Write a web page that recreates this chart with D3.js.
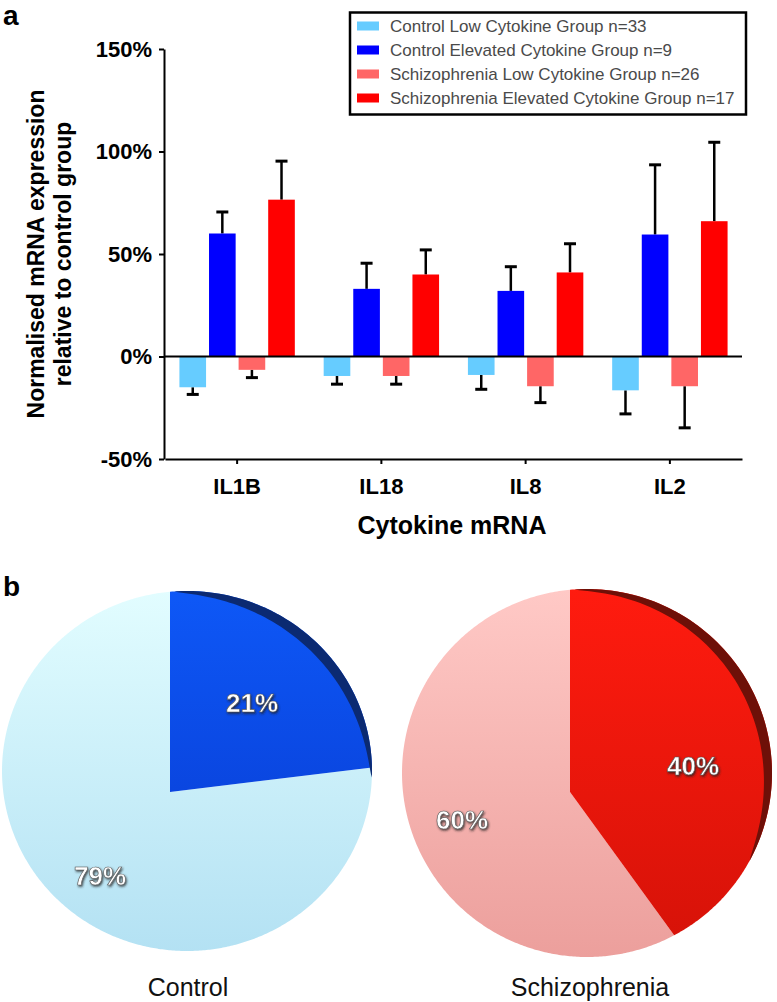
<!DOCTYPE html>
<html><head><meta charset="utf-8">
<script src="https://cdn.jsdelivr.net/npm/d3@7"></script>
<style>body{margin:0;background:#fff}svg{display:block}</style>
</head><body>
<script>
// ---------- DATA ----------
const categories = ["IL1B", "IL18", "IL8", "IL2"];
const seriesNames = [
  "Control Low Cytokine Group n=33",
  "Control Elevated Cytokine Group n=9",
  "Schizophrenia Low Cytokine Group n=26",
  "Schizophrenia Elevated Cytokine Group n=17"
];
const controlLow      = [-15, -9.5, -9, -16.5];
const controlLowErr   = [3.5, 4, 7, 11.5];
const controlElev     = [60, 33, 32, 59.5];
const controlElevErr  = [10.5, 12.5, 11.8, 34];
const schizLow        = [-6.5, -9.5, -14.5, -14.5];
const schizLowErr     = [3.8, 4, 8, 20.3];
const schizElev       = [76.5, 40, 41, 66];
const schizElevErr    = [18.8, 12, 14, 38.5];
const yTicks = [-50, 0, 50, 100, 150];

const pieGroups = ["Control", "Schizophrenia"];
const controlPie = [21, 79];       // elevated, low
const schizPie   = [40, 60];       // elevated, low
const pieLabels  = [["21%", "79%"], ["40%", "60%"]];

// ---------- SETUP ----------
const W = 777, H = 1002;
const FONT = "'Liberation Sans', Arial, Helvetica, sans-serif";
const svg = d3.select("body").append("svg").attr("width", W).attr("height", H)
  .style("font-family", FONT);

const barColors = ["#66ccff", "#0000ff", "#ff6666", "#ff0000"];
const series = [
  {v: controlLow, e: controlLowErr},
  {v: controlElev, e: controlElevErr},
  {v: schizLow, e: schizLowErr},
  {v: schizElev, e: schizElevErr}
];

// panel labels
svg.append("text").attr("x", 3).attr("y", 25).text("a")
  .style("font-size", "28px").style("font-weight", "bold");
svg.append("text").attr("x", 3).attr("y", 596).text("b")
  .style("font-size", "28px").style("font-weight", "bold");

// ---------- BAR CHART ----------
const y = d3.scaleLinear().domain([-50, 150]).range([459, 49]);
const x0 = d3.scaleBand().domain(categories).range([165, 742]).paddingInner(0.2).paddingOuter(0.1);
const x1 = d3.scaleBand().domain(d3.range(4)).range([0, x0.bandwidth()]).paddingInner(0.1);

const gBars = svg.append("g");
categories.forEach((c, ci) => {
  series.forEach((s, si) => {
    const v = s.v[ci], e = s.e[ci];
    const bx = x0(c) + x1(si), bw = x1.bandwidth();
    const cx = bx + bw / 2;
    const tip = v >= 0 ? v + e : v - e;
    gBars.append("line").attr("x1", cx).attr("x2", cx)
      .attr("y1", y(v)).attr("y2", y(tip))
      .attr("stroke", "#000").attr("stroke-width", 2.5);
    gBars.append("line").attr("x1", cx - 6).attr("x2", cx + 6)
      .attr("y1", y(tip)).attr("y2", y(tip))
      .attr("stroke", "#000").attr("stroke-width", 3);
    gBars.append("rect").attr("x", bx).attr("width", bw)
      .attr("y", y(Math.max(0, v))).attr("height", Math.abs(y(v) - y(0)))
      .attr("fill", barColors[si]);
  });
});

// zero line
svg.append("line").attr("x1", 164).attr("x2", 742).attr("y1", y(0)).attr("y2", y(0))
  .attr("stroke", "#000").attr("stroke-width", 2);

// axes
const yAxis = svg.append("g").attr("transform", "translate(164,0)")
  .call(d3.axisLeft(y).tickValues(yTicks).tickFormat(d => d + "%").tickSize(5).tickSizeOuter(0).tickPadding(7));
yAxis.selectAll("text").style("font-size", "22px").style("font-weight", "bold").style("font-family", FONT).attr("fill", "#000");
yAxis.selectAll("path,line").attr("stroke", "#000").attr("stroke-width", 2);

const xAxis = svg.append("g").attr("transform", `translate(0,${y(-50)})`)
  .call(d3.axisBottom(x0).tickSize(5).tickSizeOuter(0).tickPadding(14));
xAxis.selectAll("text").style("font-size", "22px").style("font-weight", "bold").style("font-family", FONT).attr("fill", "#000");
xAxis.selectAll("path,line").attr("stroke", "#000").attr("stroke-width", 2);

// axis titles
const yt = svg.append("text").attr("transform", "translate(36,254) rotate(-90)")
  .attr("text-anchor", "middle").style("font-size", "23px").style("font-weight", "bold");
yt.append("tspan").attr("x", 0).attr("dy", "0.35em").text("Normalised mRNA expression");
yt.append("tspan").attr("x", 0).attr("dy", "27px").text("relative to control group");

svg.append("text").attr("x", 452).attr("y", 534).attr("text-anchor", "middle")
  .style("font-size", "25px").style("font-weight", "bold").text("Cytokine mRNA");

// legend
const lg = svg.append("g");
lg.append("rect").attr("x", 350).attr("y", 12.5).attr("width", 396).attr("height", 102)
  .attr("fill", "#fff").attr("stroke", "#000").attr("stroke-width", 2.5);
seriesNames.forEach((n, i) => {
  const cy = 26 + i * 24;
  lg.append("rect").attr("x", 357).attr("y", cy - 4.5).attr("width", 22).attr("height", 9).attr("fill", barColors[i]);
  lg.append("text").attr("x", 390).attr("y", cy).attr("dy", "0.36em")
    .style("font-size", "17px").attr("fill", "#4a4a4a").text(n);
});

// ---------- PIES ----------
const defs = svg.append("defs");
function grad(id, c1, c2, y1, y2) {
  const g = defs.append("linearGradient").attr("id", id).attr("gradientUnits", "userSpaceOnUse")
    .attr("x1", 0).attr("x2", 0).attr("y1", y1).attr("y2", y2);
  g.append("stop").attr("offset", 0).attr("stop-color", c1);
  g.append("stop").attr("offset", 1).attr("stop-color", c2);
}
grad("cLow", "#e2fdff", "#b3e1f3", 590, 955);
grad("cHigh", "#0e58f7", "#0a46e0", 590, 790);
grad("sLow", "#ffc9c6", "#ec9f9c", 590, 957);
grad("sHigh", "#ff1b0f", "#d51208", 590, 957);
const f = defs.append("filter").attr("id", "sh").attr("x", "-20%").attr("y", "-20%").attr("width", "140%").attr("height", "140%");
f.append("feDropShadow").attr("dx", 1).attr("dy", 1.5).attr("stdDeviation", 1.2).attr("flood-color", "#222").attr("flood-opacity", 0.8);

const pieGeoms = [
  {C: [187, 771], rx: 185, ry: 180, V: [170, 792], fills: ["url(#cHigh)", "url(#cLow)"], rim: "#0b2a72",
   lab: [[252, 703], [100, 876]], name: [188, 996]},
  {C: [587, 773], rx: 185, ry: 184, V: [570, 792], fills: ["url(#sHigh)", "url(#sLow)"], rim: "#6e1008",
   lab: [[693, 766], [462, 820]], name: [590, 996]}
];
const pieData = [controlPie, schizPie];
const pie = d3.pie().sort(null).value(d => d);

// perspective-style angular mapping for the tilted pie
function edge(g, th) {
  const A = 0.145, ref = 144 * Math.PI / 180;
  const tw = th - A * Math.sin(th) * Math.sin(th - ref);
  const dx = Math.sin(tw), dy = -Math.cos(tw);
  const px = (g.V[0] - g.C[0]) / g.rx, py = (g.V[1] - g.C[1]) / g.ry;
  const qx = dx / g.rx, qy = dy / g.ry;
  const a = qx * qx + qy * qy, b = 2 * (px * qx + py * qy), c = px * px + py * py - 1;
  const t = (-b + Math.sqrt(b * b - 4 * a * c)) / (2 * a);
  return [g.V[0] + t * dx, g.V[1] + t * dy];
}
function slicePath(g, a0, a1) {
  const n = Math.max(2, Math.ceil((a1 - a0) / 0.01));
  const pts = [g.V];
  for (let i = 0; i <= n; i++) pts.push(edge(g, a0 + (a1 - a0) * i / n));
  return d3.line()(pts) + "Z";
}
function rimPath(g, a0, a1, maxT) {
  const n = 80, outer = [], inner = [];
  for (let i = 0; i <= n; i++) {
    const th = a0 + (a1 - a0) * i / n;
    const p = edge(g, th);
    const thick = maxT * Math.pow(Math.sin(Math.PI * i / n), 0.7);
    const vx = p[0] - g.C[0], vy = p[1] - g.C[1], L = Math.hypot(vx, vy);
    outer.push(p);
    inner.push([p[0] - vx / L * thick, p[1] - vy / L * thick]);
  }
  return d3.line()(outer.concat(inner.reverse())) + "Z";
}

pieData.forEach((data, pi) => {
  const g = pieGeoms[pi];
  const arcs = pie(data);
  const gp = svg.append("g");
  [1, 0].forEach(k => {
    gp.append("path").attr("d", slicePath(g, arcs[k].startAngle, arcs[k].endAngle)).attr("fill", g.fills[k]);
  });
  const rimEnd = Math.min(arcs[0].endAngle + 0.05, 1.85);
  gp.append("path").attr("d", rimPath(g, 0.02, rimEnd, 10)).attr("fill", g.rim);
  arcs.forEach((a, k) => {
    gp.append("text").attr("x", g.lab[k][0]).attr("y", g.lab[k][1]).attr("dy", "0.36em")
      .attr("text-anchor", "middle").style("font-size", "26px").style("font-weight", "bold")
      .attr("fill", "#fff").attr("stroke", "#555").attr("stroke-width", 0.6)
      .attr("filter", "url(#sh)").text(pieLabels[pi][k]);
  });
  svg.append("text").attr("x", g.name[0]).attr("y", g.name[1]).attr("text-anchor", "middle")
    .style("font-size", "25px").attr("fill", "#111").text(pieGroups[pi]);
});
</script>
</body></html>
